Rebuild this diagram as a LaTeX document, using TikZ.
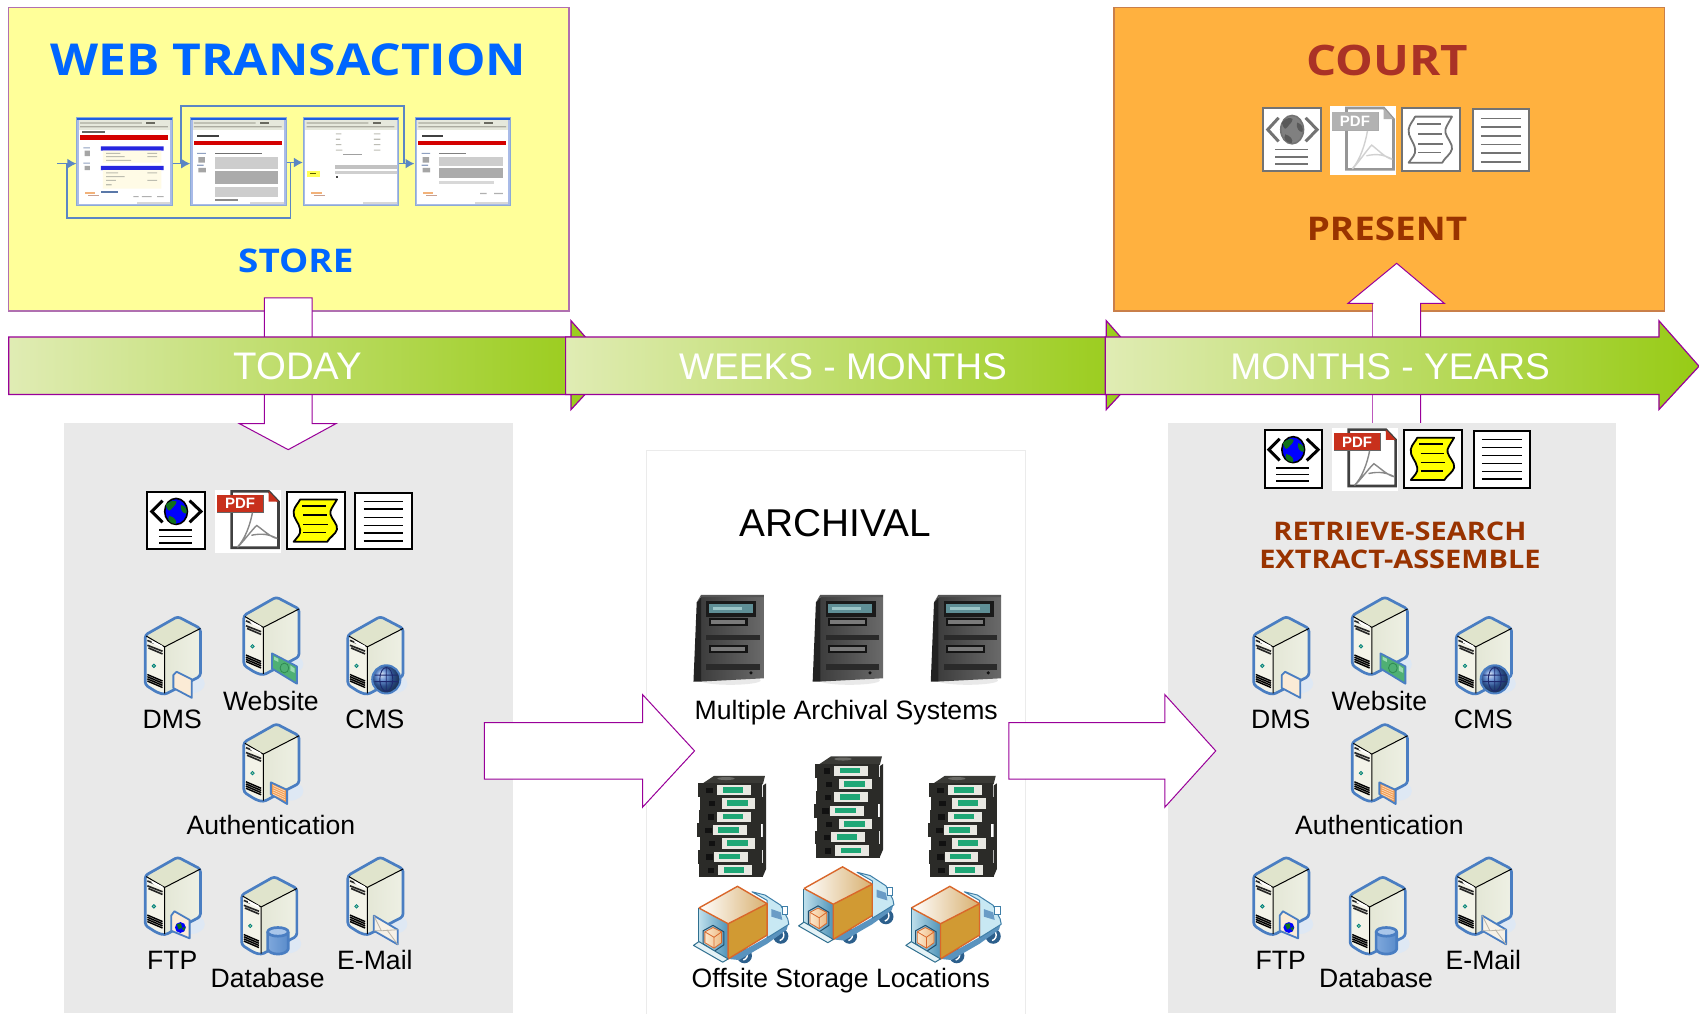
\documentclass[tikz,border=0pt]{standalone}
\usepackage{fontspec}
\usetikzlibrary{arrows.meta}
\setmainfont{Liberation Sans}
\newfontfamily\titlefont{Open Sans}[FakeStretch=1.13]
\newcommand\fsz[1]{\fontsize{#1}{#1}\selectfont}
\definecolor{plum}{HTML}{990099}
\definecolor{boxedge}{HTML}{B070B0}
\definecolor{panelgray}{HTML}{E9E9E9}
\definecolor{srvblue}{HTML}{4A7EC2}
\definecolor{docink}{HTML}{000000}
\definecolor{globeA}{HTML}{0000FF}
\definecolor{globeB}{HTML}{11711A}
\definecolor{notefill}{HTML}{FFFF00}
\definecolor{pdfred}{HTML}{C8301C}
\definecolor{pdfgray}{HTML}{888888}
\definecolor{shotblue}{HTML}{5B86C4}
\definecolor{yellowbox}{HTML}{FFFF99}
\definecolor{orangebox}{HTML}{FFB13F}
\definecolor{orangeedge}{HTML}{C97F4A}
\definecolor{titleblue}{HTML}{0066FF}
\definecolor{courtred}{HTML}{AA3226}
\definecolor{brownred}{HTML}{993300}
\tikzset{
  bigarrow/.style={draw=plum,line width=0.5pt,fill=white,line join=miter},
  tlpart/.style={draw=plum,line width=0.6pt,left color=tlpale,middle color=tlmid,right color=tlgreen},
  tltext/.style={text=white,font=\fsz{18.55pt}},
  srvlabel/.style={text=black,font=\fsz{13.3pt},inner sep=0pt},
  srvedge/.style={draw=srvblue,line width=1.35pt,line join=round},
  doclinev/.style={draw=docink,line width=0.8pt},
  shotframe/.style={draw=shotblue!70!white,line width=0.5pt,minimum width=47.67pt,minimum height=44.42pt,inner sep=0pt},
  shotconn/.style={draw=shotblue,line width=0.8pt},
  shotarrow/.style={shotconn,-{Latex[length=4.5pt,width=5pt]}},
  % ---------- documents
  webdoc/.pic={
    \draw[docink,line width=1pt,fill=white] (0,0) rectangle (53,53);
    \draw[docink,line width=1.5pt] (14,8)--(4,18)--(14,28) (39,8)--(49.5,18)--(39,28);
    \fill[globeA] (26.5,18) ellipse (10.5 and 12);
    \draw[docink,line width=0.8pt] (26.5,18) ellipse (10.5 and 12);
    \fill[globeB] (17,12)..controls(22,7)and(25,8)..(27,9)..controls(26,13)and(24,13)..(22,16)..controls(20,19)and(18,16)..cycle;
    \fill[globeB] (31,12)..controls(36,13)and(37,17)..(36,20)..controls(33,20)and(30,17)..cycle;
    \fill[globeB] (20,22)..controls(25,23)and(28,27)..(26,29.5)..controls(21,29)and(18,26)..cycle;
    \draw[doclinev] (11,35)--(41.5,35) (11,41)--(41.5,41) (11,47)--(41.5,47);
  },
  pdfdoc/.pic={
    \fill[white] (0,0) rectangle (61,58);
    \draw[docink!75!white,line width=1.3pt,fill=white] (15.7,1.5)--(50,1.5)--(59,11)--(59,53.5)--(15.7,53.5)--cycle;
    \fill[pdfred] (50,1.5)--(59,11)--(50,11)--cycle;
    \fill[pdfred] (2.5,5) rectangle (45,20.6);
    \draw[docink!60!white,line width=0.5pt] (2.5,20.6)--(45,20.6)--(45,5);
    \node[text=white,font=\fsz{7.5pt}\bfseries,inner sep=0pt] (pdflabel) at (23.5,12.8) {PDF};
    \draw[pdfgray,line width=0.7pt] (35,21)..controls(33,32)and(28,46)..(21,53)
      (21,53)..controls(25,50)and(36,35)..(39,33)..controls(46,38)and(52,44)..(58,45)
      ..controls(50,41)and(44,40)..(34,42);
  },
  notedoc/.pic={
    \draw[docink,line width=1pt,fill=white] (0,0) rectangle (53,53);
    \draw[docink,line width=0.9pt,fill=notefill,line join=round]
      (12,7)--(46,7)..controls(42,14)and(39,17)..(40,20.6)..controls(41,25)and(47,30)..(46,34.5)
      ..controls(45,39)and(39,42)..(37,46)--(6,46)..controls(9,42)and(13,39)..(12,34.5)
      ..controls(11,28)and(5,24)..(6,17.8)..controls(7,13)and(10,11)..cycle;
    \draw[doclinev] (14,13)--(36,13) (15,21.5)--(37,21.5) (15,30)--(38,30) (15,37.5)--(36,37.5);
  },
  textdoc/.pic={
    \draw[docink,line width=1pt,fill=white] (0,0) rectangle (52,52);
    \draw[doclinev] (7.7,7.7)--(44.3,7.7) (7.7,15)--(44.3,15) (7.7,22.5)--(44.3,22.5)
      (7.7,29.8)--(44.3,29.8) (7.7,37)--(44.3,37) (7.7,44.3)--(44.3,44.3);
  },
  % ---------- servers
  srvbody/.pic={
    \fill[srvblue!18!white] (44,62) ellipse (13 and 9);
    \fill[F3F3E8] (2,17)--(20,28)--(20,72)--(2,63)--cycle;
    \shade[left color=E4E7D6,right color=EEF0E4] (20,28)--(53,11)--(53,55)--(20,72)--cycle;
    \fill[E0E4CC] (2,17)--(32,0)--(53,11)--(20,28)--cycle;
    \draw[srvedge,rounded corners=1.5pt] (2,17)--(32,0)--(53,11)--(53,55)--(20,72)--(13,70)--(2,63)--cycle;
    \draw[black,line width=0.5pt] (3,18)--(20,28)--(53,11) (20,28)--(20,71);
    \draw[black!85,line width=0.8pt] (4,22)--(10,24.5) (4,26.5)--(18,32) (5,29)--(18,34.5);
    \fill[white] (8,22)--(18,27)--(18,29)--(8,24)--cycle;
    \draw[teal,fill=green!35!gray!60,line width=0.4pt] (10,45.5) circle (1.6);
    \draw[black,line width=0.7pt] (4,53.5)--(18,59.5) (4,55.5)--(18,61.5) (4,57.5)--(18,63.5) (4,59.5)--(18,65.5);
  },
  srvdms/.pic={
    \pic {srvbody};
    \draw[srvedge,line width=0.9pt,fill=FBEBD6,line join=round] (28,54)--(31,51)--(45,58)--(45,75)--(28,66)--cycle;
  },
  srvweb/.pic={
    \pic {srvbody};
    \draw[srvedge,line width=0.9pt,fill=4FB074] (28,52)--(51,64)--(51,80)--(28,66)--cycle;
    \draw[2F8A52,line width=0.4pt] (39.5,65.5) ellipse (4 and 4.5);
    \fill[9ADAB0] (30,55)--(34,57)--(34,60)--(30,58)--cycle (45,63)--(49,66)--(49,70)--(45,68)--cycle;
  },
  srvcms/.pic={
    \pic {srvbody};
    \shade[ball color=3F72C6,draw=srvblue,line width=1pt] (37.5,58) circle (13);
    \draw[1E2A70,line width=0.45pt] (37.5,58) ellipse (6 and 11) (27,54)--(48,54) (26.5,60)--(48.5,60) (37.5,47)--(37.5,69);
  },
  srvauth/.pic={
    \pic {srvbody};
    \draw[srvedge,line width=0.9pt,fill=F29A4E] (27,54)--(42,61)--(42,74)--(27,65)--cycle;
    \draw[FBD7B4,line width=0.4pt] (29,57)--(40,62) (29,59)--(40,64) (29,61)--(40,66) (29,63)--(40,68) (29,65)--(40,70);
  },
  srvftp/.pic={
    \pic {srvbody};
    \draw[srvedge,line width=0.9pt,fill=FBEBD6,line join=round] (26,54)--(29,50)--(43,58)--(43,75)--(26,68)--cycle;
    \fill[globeA] (34.5,65) circle (5);
    \fill[globeB] (31,62)--(35,61)--(36,65)--(33,67)--cycle (36,66)--(39,64)--(38,68)--cycle;
  },
  srvdb/.pic={
    \pic {srvbody};
    \shade[left color=7FA8DC,middle color=EAF2FB,right color=5A8CCB] (26,51)--(26,67)..controls(28,73)and(43,73)..(45,67)--(45,51)--cycle;
    \draw[srvedge] (26,51)--(26,67)..controls(28,73)and(43,73)..(45,67)--(45,51);
    \draw[srvedge,fill=A9C6EA] (35.5,51) ellipse (9.5 and 4);
  },
  srvmail/.pic={
    \pic {srvbody};
    \draw[srvedge,line width=0.9pt,fill=F6F1E7] (26,54)--(48,67)--(48,80.6)--(26,68)--cycle;
    \draw[B9B4A8,line width=0.4pt] (26,54)--(33,68)--(48,67) (26,68)--(33,68) (48,80.6)--(38,67);
  },
  % ---------- archival devices
  rackbox/.pic={
    \fill[black!14,opacity=0.6] (33,80) ellipse (28 and 4);
    \shade[left color=3D3D3D,right color=6A6A6A] (6,3)--(64,3)--(64,78)--(6,81)--cycle;
    \fill[222222] (-1,81)--(6,81)--(6,3)--(2,8)--cycle;
    \fill[555555] (2,8)--(6,1)--(64,1)--(64,3)--(6,3)--cycle;
    \fill[1A1A1A] (11,7) rectangle (57,21);
    \fill[5F8F96] (13,9) rectangle (54,18);
    \fill[9CC6C8] (17,12) rectangle (44,15);
    \fill[141414] (13,22) rectangle (49,30);
    \fill[7A7A7A] (15,24) rectangle (47,28);
    \fill[2A2A2A] (11,38) rectangle (60,43);
    \fill[141414] (13,47) rectangle (49,55);
    \fill[7A7A7A] (15,49) rectangle (47,53);
    \fill[2A2A2A] (11,65) rectangle (60,70);
    \fill[111111] (52,73) circle (1.6);
  },
  tapelayer/.pic={
    \fill[2B2B28] (0,0) rectangle (59,12.6);
    \fill[E8E8E2] (#1,1.5)--(#1+31,1.5)--(#1+31,11)--(#1,11)--cycle;
    \fill[1FA776] (#1+5,3.4) rectangle (#1+24,8.6);
    \fill[111111] (8,4) rectangle (14,9);
  },
  tapestack/.pic={
    \fill[3A3A36] (3,8)--(15,0)--(62,0)--(60,8)--cycle;
    \fill[6A6A66] (26,2.5) ellipse (8 and 1.4);
    \foreach \row/\off/\dx in {0/18/0,1/20/2,2/17/1,3/15/-1,4/20/2,5/15/0,6/18/1}{
      \pic[shift={(\dx,7+12.3*\row)}] {tapelayer=\off};
    }
    \fill[2B2B28] (60,9)--(63,7)--(63,86)--(60,93)--cycle;
  },
  truckbox/.pic={
    \fill[2C5F8C] (47,64) circle (7) (80.6,46) circle (7);
    \draw[white,line width=0.7pt] (49,60)..controls(51,64)and(49,67)..(46,68) (82.6,42)..controls(84.6,46)and(82.6,49)..(79.6,50);
    \fill[5A93BE] (32,67)--(68,47)--(88,33)--(86,40)--(68,53)--(42,68)--cycle;
    \draw[3F7FA8,line width=0.5pt,fill=C8E8F3,line join=round] (54,5)--(66,8)--(80.6,17.5)--(87,30)--(88,35)--(68,47.5)--(68,13)--cycle;
    \fill[6A9CC6] (72,21)--(80.6,24)--(82,31)--(72,28)--cycle;
    \draw[3F7FA8,line width=0.5pt,fill=white] (82,19) rectangle (87,26);
    \shade[left color=BFE0EC,right color=4F93B8] (5,20)--(32,34.5)--(32,67)--(5,51)--cycle;
    \shade[left color=FFFFFF,right color=D8B070] (5,20)--(40.6,0)--(68,16)--(32,34.5)--cycle;
    \fill[D19A33] (32,34.5)--(68,16)--(68,45)--(32,67)--cycle;
    \draw[D9672B,line width=0.7pt,line join=round] (5,20)--(40.6,0)--(68,16)--(68,45)--(32,67)--(32,34.5)--(68,16) (5,20)--(32,34.5);
    \draw[2F6F8F,line width=0.5pt] (5,20)--(5,51);
    \draw[1F4F6F,line width=0.5pt] (9,41)--(18,36)--(28,42)--(28,54)--(19,60)--(9,53)--cycle;
    \shade[left color=FCE7CC,right color=EDBB85,draw=D9672B,line width=0.4pt] (10.5,42)--(18,38)--(26,42)--(26,52)--(19,57)--(10.5,52)--cycle;
    \draw[D9672B,line width=0.4pt] (10.5,42)--(19,47)--(26,42) (19,47)--(19,57);
    \draw[2F6F8F,line width=0.5pt,fill=E4F2F6,line join=round] (0,54.5)--(5,51)--(32,67)--(27,70)--cycle;
  },
  % ---------- browser screenshots (local box 88 x 82)
  shotchrome/.pic={
    \fill[white] (0,0) rectangle (88,82);
    \fill[1E5FE0] (0,0) rectangle (88,3);
    \fill[E6E8DC] (0,3) rectangle (88,12);
    \fill[ABABA0] (3,5) rectangle (60,6) (3,8.5) rectangle (84,9.5);
    \fill[6A6A60] (64,5) rectangle (72,6.5);
    \draw[A9BBE8,line width=1pt] (0.8,3)--(0.8,81.2)--(87.2,81.2)--(87.2,3);
    \fill[D8D8D8] (55,78.8) rectangle (86,80.5);
  },
  shotorangelogo/.pic={
    \fill[F2B27A] (7,69) rectangle (17,71);
    \fill[C8A090] (10,72) rectangle (20,73.2);
  },
  shotone/.pic={
    \pic {shotchrome};
    \fill[656565] (5,13.2) rectangle (26,15);
    \fill[D40000] (3,17) rectangle (84,21);
    \fill[2626E0] (22,27) rectangle (80,31) (22,45) rectangle (80,49);
    \fill[FFFBE6] (24,31) rectangle (78,42) (24,49) rectangle (78,66);
    \fill[BDBDB0] (27,33) rectangle (40,34) (27,36) rectangle (44,37) (27,39.5) rectangle (50,40.5)
      (27,51) rectangle (38,52) (27,54.5) rectangle (44,55.5) (27,58) rectangle (36,59) (27,62) rectangle (32,63)
      (65,33) rectangle (74,34) (65,36) rectangle (74,37) (65,51) rectangle (74,52) (65,58) rectangle (74,59);
    \fill[8FA0C0] (6,28) rectangle (12,29) (6,42) rectangle (12,43);
    \fill[A5A5A5] (7,31) rectangle (12,36) (7,45) rectangle (12,49);
    \fill[5A78A8] (22,68) rectangle (38,70);
    \fill[B0B0B0] (52,73) rectangle (57,74) (60,73) rectangle (69,74) (74,73) rectangle (80,74);
    \pic {shotorangelogo};
  },
  shottwo/.pic={
    \pic {shotchrome};
    \fill[404040] (6,17) rectangle (26,18.5);
    \fill[D40000] (3,22) rectangle (84,26);
    \fill[8FA0C0] (6,33) rectangle (14,34) (6,44) rectangle (12,45);
    \fill[A5A5A5] (7,37) rectangle (13,42) (7,47) rectangle (14,51);
    \fill[707070] (22,33) rectangle (66,34);
    \fill[CDCDCD] (22,37) rectangle (81,48);
    \fill[ABABAB] (22,50) rectangle (81,62);
    \fill[CDCDCD] (22,65) rectangle (81,74);
    \fill[8A8A8A] (22,76) rectangle (44,77.3);
  },
  shotthree/.pic={
    \pic {shotchrome};
    \fill[BDBDB5] (30,15) rectangle (35,16) (30,20) rectangle (34,21) (30,25) rectangle (35,26) (30,30) rectangle (36,31)
      (65,15) rectangle (71,16) (65,20) rectangle (71,21) (65,25) rectangle (71,26) (65,30) rectangle (71,31);
    \fill[A0A0A0] (37,34) rectangle (54,35.3);
    \fill[C2C2C2] (29,44) rectangle (86,48);
    \fill[CFCFCF] (29,50) rectangle (86,53);
    \fill[FFFF55] (3,50) rectangle (15,55);
    \fill[5A5A00] (6,52) rectangle (12,53);
    \fill[444444] (30,54) rectangle (32,56);
    \pic {shotorangelogo};
  },
  shotfour/.pic={
    \pic {shotchrome};
    \fill[404040] (6,17) rectangle (26,18.5);
    \fill[D40000] (3,22) rectangle (84,26);
    \fill[8FA0C0] (6,33) rectangle (14,34) (6,44) rectangle (12,45);
    \fill[A5A5A5] (7,37) rectangle (13,42) (7,47) rectangle (14,51);
    \fill[808080] (22,33) rectangle (47,34);
    \fill[CDCDCD] (22,37) rectangle (81,45);
    \fill[ABABAB] (22,47) rectangle (81,56);
    \fill[D8D8D8] (22,59) rectangle (73,62);
    \fill[B0B0B0] (60,70) rectangle (66,71.2) (73,70) rectangle (81,71.2);
    \pic {shotorangelogo};
  },
}
% hex colours used by bare name
\definecolor{E4E7D6}{HTML}{E4E7D6}\definecolor{EEF0E4}{HTML}{EEF0E4}\definecolor{E0E4CC}{HTML}{E0E4CC}
\definecolor{F3F3E8}{HTML}{F3F3E8}\definecolor{FBEBD6}{HTML}{FBEBD6}\definecolor{4FB074}{HTML}{4FB074}
\definecolor{2F8A52}{HTML}{2F8A52}\definecolor{9ADAB0}{HTML}{9ADAB0}\definecolor{3F72C6}{HTML}{3F72C6}
\definecolor{1E2A70}{HTML}{1E2A70}\definecolor{F29A4E}{HTML}{F29A4E}\definecolor{FBD7B4}{HTML}{FBD7B4}
\definecolor{7FA8DC}{HTML}{7FA8DC}\definecolor{EAF2FB}{HTML}{EAF2FB}\definecolor{5A8CCB}{HTML}{5A8CCB}
\definecolor{A9C6EA}{HTML}{A9C6EA}\definecolor{F6F1E7}{HTML}{F6F1E7}\definecolor{B9B4A8}{HTML}{B9B4A8}
\definecolor{3D3D3D}{HTML}{3D3D3D}\definecolor{6A6A6A}{HTML}{6A6A6A}\definecolor{222222}{HTML}{222222}
\definecolor{555555}{HTML}{555555}\definecolor{1A1A1A}{HTML}{1A1A1A}\definecolor{5F8F96}{HTML}{5F8F96}
\definecolor{9CC6C8}{HTML}{9CC6C8}\definecolor{141414}{HTML}{141414}\definecolor{7A7A7A}{HTML}{7A7A7A}
\definecolor{2A2A2A}{HTML}{2A2A2A}\definecolor{111111}{HTML}{111111}\definecolor{2B2B28}{HTML}{2B2B28}
\definecolor{E8E8E2}{HTML}{E8E8E2}\definecolor{1FA776}{HTML}{1FA776}\definecolor{3A3A36}{HTML}{3A3A36}
\definecolor{6A6A66}{HTML}{6A6A66}\definecolor{2C5F8C}{HTML}{2C5F8C}\definecolor{5A93BE}{HTML}{5A93BE}
\definecolor{3F7FA8}{HTML}{3F7FA8}\definecolor{C8E8F3}{HTML}{C8E8F3}\definecolor{6A9CC6}{HTML}{6A9CC6}
\definecolor{BFE0EC}{HTML}{BFE0EC}\definecolor{E2F2F7}{HTML}{E2F2F7}\definecolor{7FB6D2}{HTML}{7FB6D2}
\definecolor{4F93B8}{HTML}{4F93B8}\definecolor{FFFFFF}{HTML}{FFFFFF}\definecolor{D8B070}{HTML}{D8B070}
\definecolor{D19A33}{HTML}{D19A33}\definecolor{D9672B}{HTML}{D9672B}\definecolor{2F6F8F}{HTML}{2F6F8F}
\definecolor{1F4F6F}{HTML}{1F4F6F}\definecolor{FCE7CC}{HTML}{FCE7CC}\definecolor{EDBB85}{HTML}{EDBB85}
\definecolor{E4F2F6}{HTML}{E4F2F6}\definecolor{1E5FE0}{HTML}{1E5FE0}\definecolor{E6E8DC}{HTML}{E6E8DC}
\definecolor{ABABA0}{HTML}{ABABA0}\definecolor{6A6A60}{HTML}{6A6A60}\definecolor{A9BBE8}{HTML}{A9BBE8}
\definecolor{D8D8D8}{HTML}{D8D8D8}\definecolor{F2B27A}{HTML}{F2B27A}\definecolor{C8A090}{HTML}{C8A090}
\definecolor{656565}{HTML}{656565}\definecolor{D40000}{HTML}{D40000}
\definecolor{2626E0}{HTML}{2626E0}\definecolor{FFFBE6}{HTML}{FFFBE6}\definecolor{BDBDB0}{HTML}{BDBDB0}
\definecolor{8FA0C0}{HTML}{8FA0C0}\definecolor{A5A5A5}{HTML}{A5A5A5}\definecolor{5A78A8}{HTML}{5A78A8}
\definecolor{B0B0B0}{HTML}{B0B0B0}\definecolor{404040}{HTML}{404040}\definecolor{707070}{HTML}{707070}
\definecolor{CDCDCD}{HTML}{CDCDCD}\definecolor{ABABAB}{HTML}{ABABAB}\definecolor{8A8A8A}{HTML}{8A8A8A}\definecolor{BDBDB5}{HTML}{BDBDB5}
\definecolor{A0A0A0}{HTML}{A0A0A0}\definecolor{C2C2C2}{HTML}{C2C2C2}\definecolor{CFCFCF}{HTML}{CFCFCF}
\definecolor{FFFF55}{HTML}{FFFF55}\definecolor{5A5A00}{HTML}{5A5A00}\definecolor{444444}{HTML}{444444}
\definecolor{808080}{HTML}{808080}
\definecolor{tlpale}{HTML}{E0ECB4}\definecolor{tlmid}{HTML}{CDE294}\definecolor{tlgreen}{HTML}{97CB15}
\begin{document}
\begin{tikzpicture}[x=0.54175pt,y=-0.54175pt]
\useasboundingbox (0,0) rectangle (1568,935);

% top boxes
\filldraw[fill=yellowbox,draw=boxedge,line width=0.7pt] (8,7) rectangle (525,287);
\filldraw[fill=orangebox,draw=orangeedge,line width=0.7pt] (1028,7) rectangle (1536,287);

\node[font=\titlefont\bfseries\fsz{22pt},text=titleblue,inner sep=0pt] (webtitle) at (266,55) {WEB TRANSACTION};
\node[font=\titlefont\bfseries\fsz{16.3pt},text=titleblue,inner sep=0pt] (store) at (273,241) {STORE};
\node[font=\titlefont\bfseries\fsz{21pt},text=courtred,inner sep=0pt] (court) at (1280,56) {COURT};
\node[font=\titlefont\bfseries\fsz{16.3pt},text=brownred,inner sep=0pt] (present) at (1280,211) {PRESENT};

% screenshots
\pic at (71,108) {shotone};
\pic at (176,108) {shottwo};
\pic at (280,108) {shotthree};
\pic at (383,108) {shotfour};
\node[shotframe] (shot1) at (115,149) {};
\node[shotframe] (shot2) at (220,149) {};
\node[shotframe] (shot3) at (324,149) {};
\node[shotframe] (shot4) at (427,149) {};
\coordinate (entry) at (53,151);
\coordinate (loopA) at (62,201);
\coordinate (loopB) at (268,201);
\coordinate (joinA) at (268,150);
\coordinate (loopC) at (167,98);
\coordinate (loopD) at (373,98);
\coordinate (joinB) at (167,151);
\coordinate (joinC) at (373,151);
\draw[shotarrow] (entry) -- (entry -| shot1.west);
\draw[shotconn] (joinA) -- (loopB) -- (loopA) -- (loopA |- entry);
\draw[shotarrow] (shot1.east |- entry) -- (shot2.west |- entry);
\draw[shotarrow] (shot2.east |- joinA) -- (shot3.west |- joinA);
\draw[shotarrow] (shot3.east |- joinC) -- (shot4.west |- joinC);
\draw[shotconn] (joinB) -- (loopC) -- (loopD) -- (joinC);

% big vertical arrows
\fill[panelgray] (59,390) rectangle (473,935);
\draw[bigarrow] (244,391)--(244,275)--(288,275)--(288,391)--(310,391)--(266,415)--(221,391)--cycle;
\draw[bigarrow] (1267,400)--(1267,280)--(1244,280)--(1289,243)--(1333,280)--(1311,280)--(1311,400);
\fill[white] (1267.3,281) rectangle (1310.7,400);

% right panels
\draw[fill=white,draw=black!8,line width=0.4pt] (597,416) rectangle (946,940);
\fill[panelgray] (1078,390) rectangle (1491,935);

% timeline
\draw[tlpart] (8,311)--(527,311)--(527,296)--(564,338)--(527,378)--(527,364)--(8,364)--cycle;
\draw[tlpart] (522,311)--(1021,311)--(1021,296)--(1058,338)--(1021,378)--(1021,364)--(522,364)--cycle;
\draw[tlpart] (1020,311)--(1531,311)--(1531,296)--(1568,338)--(1531,378)--(1531,364)--(1020,364)--cycle;
\node[tltext,font=\fsz{19.2pt},inner sep=0pt] (today) at (275,338) {TODAY};
\node[tltext,inner sep=0pt] (weeks) at (778,338) {WEEKS - MONTHS};
\node[tltext,inner sep=0pt] (months) at (1283,338) {MONTHS - YEARS};

% horizontal block arrows
\draw[bigarrow] (447,667)--(593,667)--(593,641)--(641,693)--(593,745)--(593,719)--(447,719)--cycle;
\draw[bigarrow] (931,667)--(1075,667)--(1075,641)--(1122,693)--(1075,745)--(1075,719)--(931,719)--cycle;

% documents left
\pic (ldoc1) at (136,454) {webdoc};
\pic (ldoc2) at (198,452) {pdfdoc};
\pic (ldoc3) at (265,454) {notedoc};
\pic (ldoc4) at (328,455) {textdoc};
% documents right
\pic (rdoc1) at (1167,397) {webdoc};
\pic (rdoc2) at (1229,395) {pdfdoc};
\pic (rdoc3) at (1296,397) {notedoc};
\pic (rdoc4) at (1360,398) {textdoc};
% documents court
\begin{scope}
  \colorlet{docink}{black!55}
  \colorlet{globeA}{black!50}
  \colorlet{globeB}{black!65}
  \colorlet{notefill}{white}
  \colorlet{pdfred}{black!30}
  \colorlet{pdfgray}{black!18}
  \pic[yscale=1.09] (cdoc1) at (1166,100) {webdoc};
  \pic[yscale=1.09] (cdoc2) at (1227,98) {pdfdoc};
  \pic[yscale=1.09] (cdoc3) at (1294,100) {notedoc};
  \pic[yscale=1.09] (cdoc4) at (1359,101) {textdoc};
\end{scope}

% left servers
\pic (lsrv1) at (132,569) {srvdms};
\pic (lsrv2) at (223,551) {srvweb};
\pic (lsrv3) at (319,569) {srvcms};
\pic (lsrv4) at (223,668) {srvauth};
\pic (lsrv5) at (132,791) {srvftp};
\pic (lsrv6) at (221,809) {srvdb};
\pic (lsrv7) at (319,791) {srvmail};
\node[srvlabel] (ldms) at (159,664) {DMS};
\node[srvlabel] (lweb) at (250,647) {Website};
\node[srvlabel] (lcms) at (346,664) {CMS};
\node[srvlabel] (lauth) at (250,761) {Authentication};
\node[srvlabel] (lftp) at (159,886) {FTP};
\node[srvlabel] (ldb) at (247,903) {Database};
\node[srvlabel] (lmail) at (346,886) {E-Mail};
% right servers
\pic (rsrv1) at (1155,569) {srvdms};
\pic (rsrv2) at (1246,551) {srvweb};
\pic (rsrv3) at (1342,569) {srvcms};
\pic (rsrv4) at (1246,668) {srvauth};
\pic (rsrv5) at (1155,791) {srvftp};
\pic (rsrv6) at (1244,809) {srvdb};
\pic (rsrv7) at (1342,791) {srvmail};
\node[srvlabel] (rdms) at (1182,664) {DMS};
\node[srvlabel] (rweb) at (1273,647) {Website};
\node[srvlabel] (rcms) at (1369,664) {CMS};
\node[srvlabel] (rauth) at (1273,761) {Authentication};
\node[srvlabel] (rftp) at (1182,886) {FTP};
\node[srvlabel] (rdb) at (1270,903) {Database};
\node[srvlabel] (rmail) at (1369,886) {E-Mail};
\node[font=\titlefont\bfseries\fsz{12.8pt},text=brownred,inner sep=0pt] (retrieve) at (1292,490) {RETRIEVE-SEARCH};
\node[font=\titlefont\bfseries\fsz{12.8pt},text=brownred,inner sep=0pt] (extract) at (1292,516) {EXTRACT-ASSEMBLE};

% archival
\node[font=\fsz{19.4pt},inner sep=0pt] (archival) at (771,483) {ARCHIVAL};
\pic (rack1) at (641,548) {rackbox};
\pic (rack2) at (751,548) {rackbox};
\pic (rack3) at (860,548) {rackbox};
\node[srvlabel] (multi) at (781,658) {Multiple Archival Systems};
\pic (tape1) at (644,716) {tapestack};
\pic (tape2) at (752,698) {tapestack};
\pic (tape3) at (857,716) {tapestack};
\pic (truck1) at (640,818) {truckbox};
\pic (truck2) at (737,800) {truckbox};
\pic (truck3) at (836,818) {truckbox};
\node[srvlabel] (offsite) at (776,905) {Offsite Storage Locations};
\end{tikzpicture}
\end{document}
